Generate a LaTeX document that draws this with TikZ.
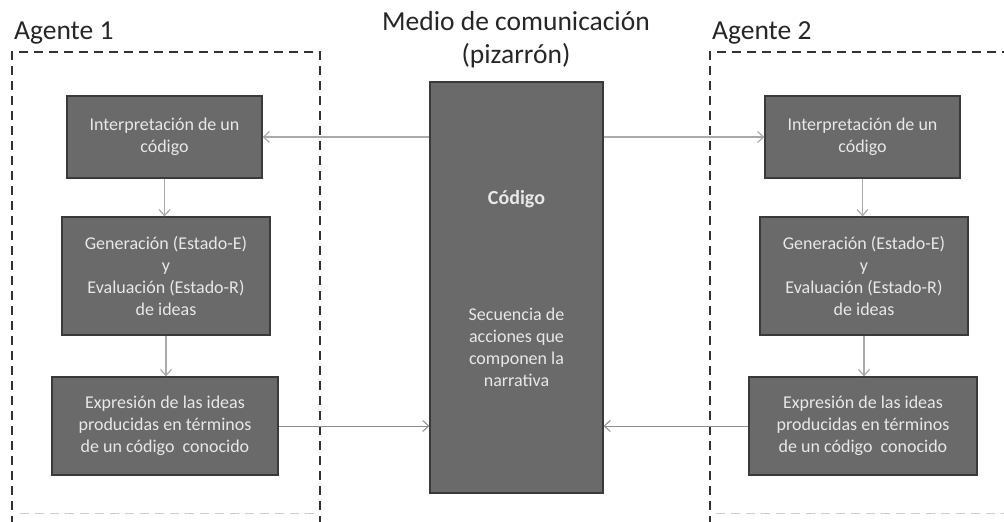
\documentclass[tikz,border=0pt]{standalone}
\usepackage{fontspec}
\setmainfont{Carlito}
\usetikzlibrary{arrows.meta}
\definecolor{boxfill}{RGB}{106,106,106}
\definecolor{boxline}{RGB}{58,58,58}
\definecolor{boxtext}{RGB}{232,232,232}
\definecolor{conn}{RGB}{170,170,170}
\definecolor{connd}{RGB}{140,140,140}
\definecolor{dash}{RGB}{50,50,50}
\tikzset{
  procbox/.style={draw=boxline, line width=1.2pt, fill=boxfill, text=boxtext, align=center,
    inner sep=0pt, font=\fontsize{18}{22}\selectfont},
  title/.style={text=black!85, align=center, font=\fontsize{27.5}{33}\selectfont, inner sep=0pt},
  agentframe/.style={draw=dash, line width=1.1pt, dash pattern=on 9pt off 6pt},
  vconn/.style={draw=conn, line width=1.2pt, -{Straight Barb[length=6pt,width=11pt]}},
  hconn/.style={draw=conn, line width=2pt, -{Straight Barb[length=6pt,width=11pt,line width=1.2pt]}},
  bconn/.style={draw=connd, line width=1pt, -{Straight Barb[length=6pt,width=11pt]}},
}
\begin{document}
\begin{tikzpicture}[x=1pt,y=-1pt]
\useasboundingbox (0,0) rectangle (1004,522);
\fill[white] (0,0) rectangle (1004,522);
\begin{scope}
\clip (0,0) rectangle (1004,522);
% agent frames
\draw[agentframe] (12,540) -- (12,52) -- (320,52) -- (320,540);
\draw[draw=black!20, line width=1pt, dash pattern=on 9pt off 6pt] (20,513) -- (314,513);
\draw[agentframe] (710,540) -- (710,52) -- (1020,52);
\draw[draw=black!20, line width=1pt, dash pattern=on 9pt off 6pt] (716,513) -- (1004,513);
\end{scope}
% titles
\node[title, anchor=base west] (t1) at (14,39) {Agente 1};
\node[title, anchor=base west] (t2) at (712,39) {Agente 2};
\node[title, anchor=base] (tm) at (516,63) {Medio de comunicación\\(pizarrón)};
% center box
\node[procbox, minimum width=173pt, minimum height=411pt] (c) at (516.5,287.5) {};
\node[text=boxtext, font=\fontsize{20}{22}\selectfont\bfseries, inner sep=0pt] (ct) at (516.5,199) {Código};
\node[text=boxtext, align=center, font=\fontsize{18}{22}\selectfont, inner sep=0pt] (cs) at (516.5,347) {Secuencia de\\acciones que\\componen la\\narrativa};
% agent 1 boxes
\node[procbox, minimum width=195pt, minimum height=82pt] (a1) at (164.5,137) {Interpretación de un\\código};
\node[procbox, minimum width=208pt, minimum height=118pt] (a2) at (166,276) {Generación (Estado-E)\\y\\Evaluación (Estado-R)\\de ideas};
\node[procbox, minimum width=226pt, minimum height=98pt] (a3) at (165,426) {Expresión de las ideas\\producidas en términos\\de un código\ \ conocido};
% agent 2 boxes
\node[procbox, minimum width=195pt, minimum height=82pt] (b1) at (862.5,137) {Interpretación de un\\código};
\node[procbox, minimum width=208pt, minimum height=118pt] (b2) at (864,276) {Generación (Estado-E)\\y\\Evaluación (Estado-R)\\de ideas};
\node[procbox, minimum width=228pt, minimum height=98pt] (b3) at (863,426) {Expresión de las ideas\\producidas en términos\\de un código\ \ conocido};
% vertical connectors
\draw[vconn] (a1.south) -- (a1.south |- a2.north);
\draw[vconn] (a2.south) -- (a2.south |- a3.north);
\draw[vconn] (b1.south) -- (b1.south |- b2.north);
\draw[vconn] (b2.south) -- (b2.south |- b3.north);
% horizontal connectors
\draw[hconn] (c.west |- a1.east) -- (a1.east);
\draw[hconn] (c.east |- b1.west) -- (b1.west);
\draw[bconn] (a3.east) -- (c.west |- a3.east);
\draw[bconn] (b3.west) -- (c.east |- b3.west);
\end{tikzpicture}
\end{document}
